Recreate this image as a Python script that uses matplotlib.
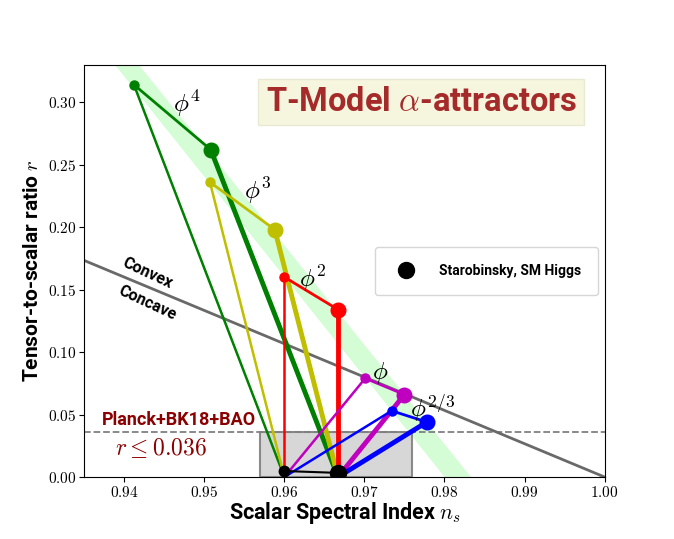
import matplotlib
matplotlib.use("Agg")
import matplotlib.pyplot as plt
from matplotlib.ticker import FuncFormatter

plt.rcParams["mathtext.fontset"] = "cm"
plt.rcParams["font.family"] = ["Roboto", "DejaVu Sans"]

# (ns, r) at N=50 (small dot) and N=60 (big dot) for each monomial
models = ["phi4", "phi3", "phi2", "phi1", "phi23"]
model_labels = [r"$\phi^4$", r"$\phi^3$", r"$\phi^2$", r"$\phi$", r"$\phi^{2/3}$"]
model_colors = ["green", "y", "r", "m", "b"]
ns_50 = [0.9412, 0.9507, 0.9600, 0.9701, 0.9734]
r_50 = [0.314, 0.236, 0.160, 0.079, 0.053]
ns_60 = [0.9508, 0.9588, 0.9667, 0.9750, 0.9778]
r_60 = [0.262, 0.198, 0.134, 0.066, 0.044]
label_ns = [0.9478, 0.9567, 0.9636, 0.9720, 0.9785]
label_r = [0.299, 0.229, 0.159, 0.083, 0.055]

# alpha -> 0 end points and Starobinsky / SM Higgs
attractor_ns = [0.960, 0.9667]
attractor_r = [0.0, 0.0]
staro_ns = [0.960, 0.9667]
staro_r = [0.0048, 0.0033]

# linear potential boundary (convex / concave)
boundary_ns = [0.935, 1.0]
boundary_r = [0.1733, 0.0]

# green band of monomial predictions
band_r = [0.0, 0.33]
band_left = [0.9800, 0.9388]
band_right = [0.9833, 0.9418]

# observational bounds
r_bound = 0.036
ns_box = [0.957, 0.976]

fig, ax = plt.subplots(figsize=(6.74, 5.39), dpi=100)

ax.fill_betweenx(band_r, band_left, band_right, color="palegreen", alpha=0.4, lw=0, zorder=0)

ax.add_patch(plt.Rectangle((ns_box[0], 0), ns_box[1] - ns_box[0], r_bound,
                           facecolor="lightgray", edgecolor="gray", lw=1.5, alpha=0.9, zorder=1))
ax.axhline(r_bound, color="gray", ls="--", lw=1.3, zorder=1)

ax.plot(boundary_ns, boundary_r, color="dimgray", lw=2, zorder=2)
ax.text(0.9429, 0.1635, "Convex", rotation=-25, ha="center", va="center",
        fontsize=11.5, fontweight="bold")
ax.text(0.9429, 0.139, "Concave", rotation=-25, ha="center", va="center",
        fontsize=11.5, fontweight="bold")

for i in range(len(models)):
    c = model_colors[i]
    ax.plot([ns_50[i], attractor_ns[0]], [r_50[i], attractor_r[0]], color=c, lw=1.8, zorder=3)
    ax.plot([ns_60[i], attractor_ns[1]], [r_60[i], attractor_r[1]], color=c, lw=3.5, zorder=3)
    ax.plot([ns_50[i], ns_60[i]], [r_50[i], r_60[i]], color=c, lw=2, zorder=3)
    ax.plot(ns_50[i], r_50[i], "o", color=c, ms=6.5, zorder=4)
    ax.plot(ns_60[i], r_60[i], "o", color=c, ms=10.5, zorder=4)
    ax.text(label_ns[i], label_r[i], model_labels[i], fontsize=18, ha="center", va="center", zorder=5)

ax.plot(staro_ns, staro_r, color="black", lw=1.5, zorder=5)
ax.plot(staro_ns[0], staro_r[0], "o", color="black", ms=7.5, zorder=6)
ax.plot(staro_ns[1], staro_r[1], "o", color="black", ms=11.5, zorder=6,
        label="Starobinsky, SM Higgs")

ax.text(0.9372, 0.042, "Planck+BK18+BAO", color="darkred", fontsize=13, fontweight="bold")
ax.text(0.9446, 0.023, r"$r \leq 0.036$", color="darkred", fontsize=17, ha="center", va="center")

ax.text(0.9771, 0.300, r"T-Model $\alpha$-attractors", color="brown", fontsize=23.5,
        fontweight="bold", ha="center", va="center",
        bbox=dict(boxstyle="square,pad=0.22", facecolor="beige", edgecolor="#e8e8d0", alpha=0.9))

ax.legend(loc="center right", borderpad=1.2, handletextpad=1.4,
          prop={"weight": "bold", "size": 10})

ax.set_xlim(0.935, 1.0)
ax.set_ylim(0, 0.33)
ax.set_xticks([0.94, 0.95, 0.96, 0.97, 0.98, 0.99, 1.00])
ax.set_yticks([0.00, 0.05, 0.10, 0.15, 0.20, 0.25, 0.30])
ax.xaxis.set_major_formatter(FuncFormatter(lambda v, p: f"${v:.2f}$"))
ax.yaxis.set_major_formatter(FuncFormatter(lambda v, p: f"${v:.2f}$"))
ax.tick_params(labelsize=11, pad=2)

ax.set_xlabel(r"Scalar Spectral Index $n_s$", fontsize=15.5, fontweight="bold", labelpad=0)
ax.set_ylabel(r"Tensor-to-scalar ratio $r$", fontsize=15, fontweight="bold")

fig.subplots_adjust(left=0.125, right=0.897, bottom=0.115, top=0.88)
fig.savefig("out.png", dpi=100)
